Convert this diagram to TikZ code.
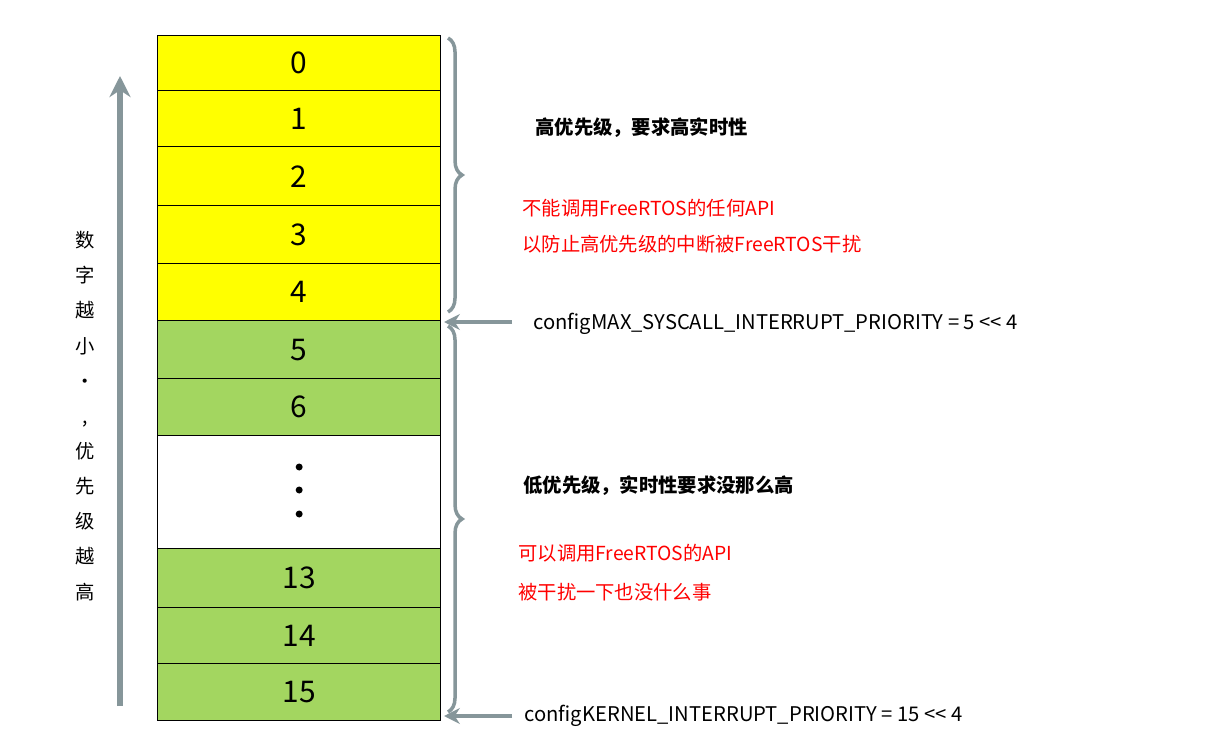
\documentclass[tikz,border=0pt]{standalone}
\usepackage{fontspec}
\setmainfont{Noto Sans CJK SC}
\usetikzlibrary{decorations.pathreplacing,arrows.meta}
\definecolor{hiyellow}{HTML}{FFFF00}
\definecolor{logreen}{HTML}{A3D660}
\definecolor{pgray}{HTML}{86969A}
\tikzstyle{slot}=[draw, thick, minimum width=5.66cm, anchor=north west, inner sep=0pt, font=\fontsize{17}{20}\selectfont]
\tikzstyle{note}=[anchor=west, inner sep=0pt, font=\fontsize{11.5}{13}\selectfont]
\tikzstyle{warn}=[note, text=red, font=\fontsize{11}{13}\selectfont]
\tikzstyle{head}=[note, font=\fontsize{11}{13}\selectfont\bfseries]
\tikzstyle{brace}=[decorate, decoration={brace,amplitude=8pt}, pgray, line width=2pt]
\tikzstyle{limit-arrow}=[-{Stealth[length=9pt,width=9pt]}, pgray, line width=2.5pt]
\begin{document}
\begin{tikzpicture}[x=0.02cm,y=-0.02cm]
\useasboundingbox (0,0) rectangle (1205,750);
% priority slots
\node[slot, fill=hiyellow, minimum height=1.10cm] (p0) at (157,35) {0};
\node[slot, fill=hiyellow, minimum height=1.12cm] (p1) at (157,90) {1};
\node[slot, fill=hiyellow, minimum height=1.18cm] (p2) at (157,146) {2};
\node[slot, fill=hiyellow, minimum height=1.16cm] (p3) at (157,205) {3};
\node[slot, fill=hiyellow, minimum height=1.14cm] (p4) at (157,263) {4};
\node[slot, fill=logreen, minimum height=1.16cm] (p5) at (157,320) {5};
\node[slot, fill=logreen, minimum height=1.14cm] (p6) at (157,378) {6};
\node[slot, fill=white, minimum height=2.26cm] (pdots) at (157,435) {};
\node[slot, fill=logreen, minimum height=1.18cm] (p13) at (157,548) {13};
\node[slot, fill=logreen, minimum height=1.12cm] (p14) at (157,607) {14};
\node[slot, fill=logreen, minimum height=1.14cm] (p15) at (157,663) {15};
\foreach \y in {467,490,514}
  \fill (pdots.center |- 0,\y) circle (3.5);
% braces
\draw[brace] (448,38) -- (448,312);
\draw[brace] (448,326) -- (448,712);
% arrows
\coordinate (maxsrc) at (512,322);
\coordinate (kersrc) at (512,716);
\draw[limit-arrow] (maxsrc) -- (444,322);
\draw[limit-arrow] (kersrc) -- (444,716);
\coordinate (upbot) at (120,706);
\coordinate (uptop) at (120,76);
\draw[-{Stealth[length=12pt,width=12pt]}, pgray, line width=3pt] (upbot) -- (uptop);
% side label
\node[font=\fontsize{11}{20}\selectfont, align=center] (side) at (85,416)
  {数\\字\\越\\小\\·\\,\\优\\先\\级\\越\\高};
% notes
\node[head] (hi) at (535,128) {高优先级，要求高实时性};
\node[warn] (hi1) at (522,208) {不能调用FreeRTOS的任何API};
\node[warn] (hi2) at (522,244) {以防止高优先级的中断被FreeRTOS干扰};
\node[note] (maxp) at (533,324) {configMAX\_SYSCALL\_INTERRUPT\_PRIORITY = 5 {<}{<} 4};
\node[head] (lo) at (523,486) {低优先级，实时性要求没那么高};
\node[warn] (lo1) at (518,553) {可以调用FreeRTOS的API};
\node[warn] (lo2) at (518,592) {被干扰一下也没什么事};
\node[note] (kerp) at (524,716) {configKERNEL\_INTERRUPT\_PRIORITY = 15 {<}{<} 4};
\end{tikzpicture}
\end{document}
